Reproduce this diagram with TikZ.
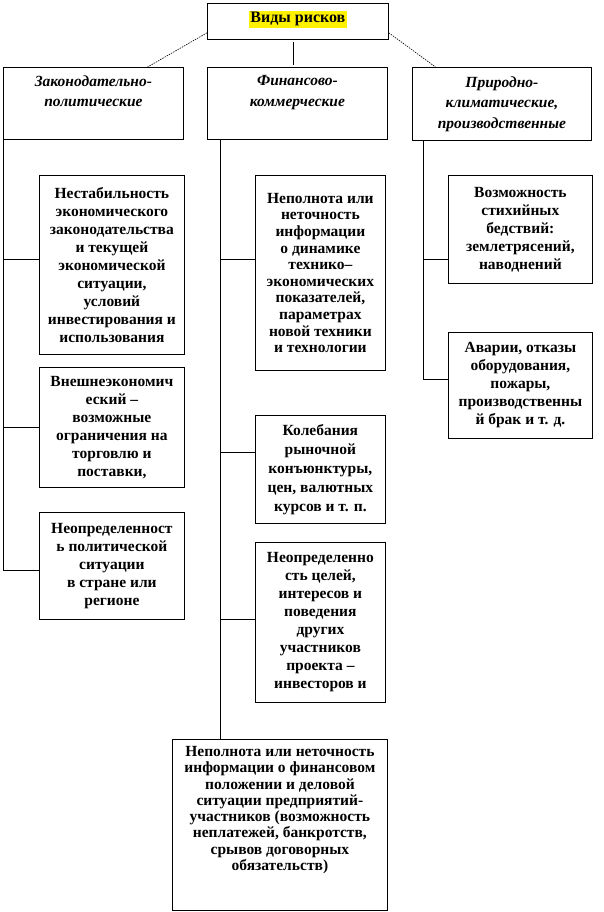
\documentclass[tikz,border=0pt]{standalone}
\usepackage{fontspec}
\setmainfont{Liberation Serif}
\usetikzlibrary{calc}

\begin{document}
\begin{tikzpicture}[x=1pt,y=1pt,
  box/.style={draw, line width=0.8pt, anchor=north west, inner sep=2pt,
    align=center, font=\bfseries\fontsize{15.5}{18}\selectfont},
  head/.style={box, font=\bfseries\itshape\fontsize{15.5}{20.5}\selectfont},
  link/.style={line width=0.8pt},
  dotline/.style={line width=0.6pt, dash pattern=on 1.5pt off 1pt}
]
\useasboundingbox (0,0) rectangle (603,-912);

% Top
\node[box, minimum width=181pt, minimum height=36pt, text depth=9pt,
  font=\bfseries\fontsize{16}{18}\selectfont] (vid) at (207,-3)
  {\fboxsep=1.5pt\colorbox{yellow}{Виды рисков}};

% Groups
\node[head, minimum width=180pt, minimum height=72pt, text depth=25pt] (zak) at (3,-67)
  {Законодательно-\\политические};
\node[head, minimum width=180pt, minimum height=72pt, text depth=25pt] (fin) at (207,-67)
  {Финансово-\\коммерческие};
\node[head, minimum width=179pt, minimum height=73pt] (prir) at (412,-67)
  {Природно-\\климатические,\\производственные};

% Left column
\node[box, minimum width=145pt, minimum height=179pt] (zak1) at (39,-175)
  {Нестабильность\\экономического\\законодательства\\и текущей\\экономической\\ситуации,\\условий\\инвестирования и\\использования};
\node[box, minimum width=145pt, minimum height=120pt] (zak2) at (39,-367)
  {Внешнеэкономич\\еский –\\возможные\\ограничения на\\торговлю и\\поставки,};
\node[box, minimum width=145pt, minimum height=107pt] (zak3) at (39,-512)
  {Неопределенност\\ь политической\\ситуации\\в стране или\\регионе};

% Middle column
\node[box, minimum width=130pt, minimum height=195pt,
  font=\bfseries\fontsize{15.5}{16.6}\selectfont] (fin1) at (255,-175)
  {Неполнота или\\неточность\\информации\\о динамике\\технико–\\экономических\\показателей,\\параметрах\\новой техники\\и технологии};
\node[box, minimum width=130pt, minimum height=108pt,
  font=\bfseries\fontsize{15.5}{19}\selectfont] (fin2) at (255,-415)
  {Колебания\\рыночной\\конъюнктуры,\\цен, валютных\\курсов и т. п.};
\node[box, minimum width=130pt, minimum height=160pt] (fin3) at (255,-542)
  {Неопределенно\\сть целей,\\интересов и\\поведения\\других\\участников\\проекта –\\инвесторов и};
\node[box, minimum width=215pt, minimum height=171pt, text depth=33pt,
  font=\bfseries\fontsize{15.5}{16.3}\selectfont] (fin4) at (172,-739)
  {Неполнота или неточность\\информации о финансовом\\положении и деловой\\ситуации предприятий-\\участников (возможность\\неплатежей, банкротств,\\срывов договорных\\обязательств)};

% Right column
\node[box, minimum width=144pt, minimum height=108pt] (prir1) at (448,-175)
  {Возможность\\стихийных\\бедствий:\\землетрясений,\\наводнений};
\node[box, minimum width=144pt, minimum height=106pt] (prir2) at (448,-332)
  {Аварии, отказы\\оборудования,\\пожары,\\производственны\\й брак и т. д.};

% Links from the top
\draw[dotline] ($(vid.south west)+(0,7)$) -- ($(zak.north west)!0.8!(zak.north east)$);
\draw[dotline] ($(vid.south east)+(0,7)$) -- ($(prir.north west)!0.13!(prir.north east)$);
\draw[link] ($(vid.south |- fin.north)+(-5,2)$) -- ($(vid.south)+(-5,-2)$);

% Trunks
\coordinate (finT) at ($(fin.south west)+(13,0)$);
\coordinate (prirT) at ($(prir.south west)+(11,0)$);

\draw[link] (zak.south west) |- ([yshift=5.5pt]zak1.west);
\draw[link] (zak.south west) |- (zak2.west);
\draw[link] (zak.south west) |- ([yshift=-4.5pt]zak3.west);

\draw[link] (finT) |- ([yshift=13.5pt]fin1.west);
\draw[link] (finT) |- ([yshift=17pt]fin2.west);
\draw[link] (finT) |- ([yshift=3pt]fin3.west);
\draw[link] (finT) -- (finT |- fin4.north);

\draw[link] (prirT) |- ([yshift=-30pt]prir1.west);
\draw[link] (prirT) |- ([yshift=6pt]prir2.west);

\end{tikzpicture}
\end{document}
